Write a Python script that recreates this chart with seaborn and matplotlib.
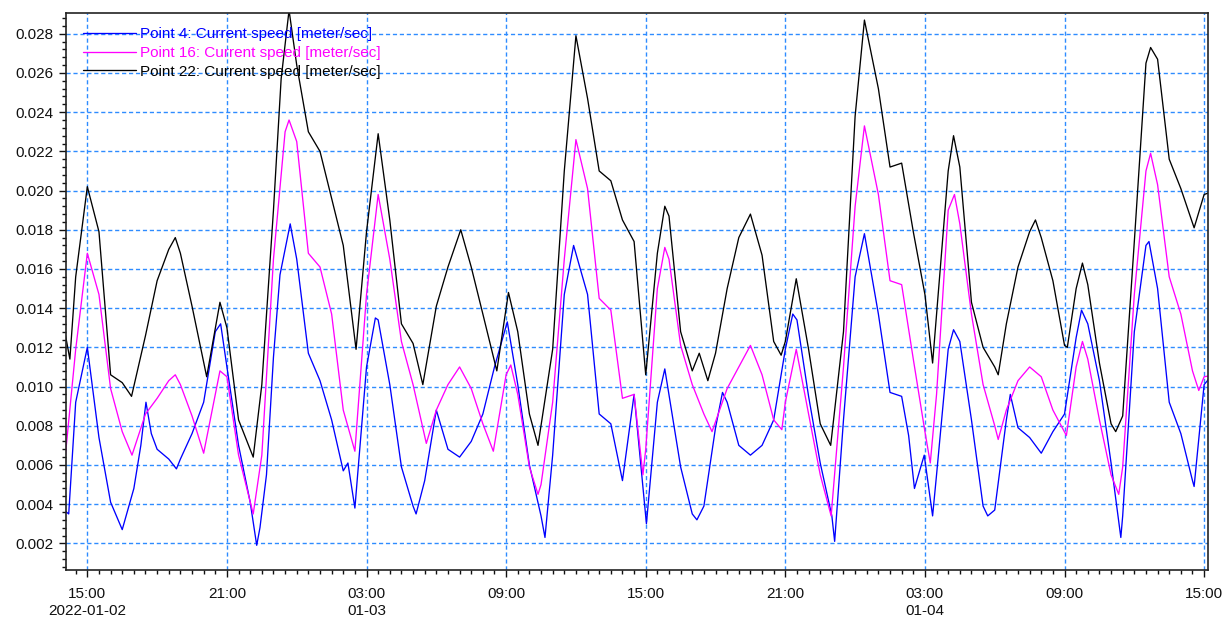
import pandas as pd
import matplotlib
matplotlib.use("Agg")
import matplotlib.pyplot as plt
import matplotlib.ticker as mticker
import seaborn as sns

# horas contadas a partir de 2022-01-02 00:00 (m/s)
p4_hours = [14.0, 14.2, 14.5, 14.75, 15.0, 15.5, 16.0, 16.5, 17.0, 17.3, 17.52, 17.75,
            18.0, 18.5, 18.83, 19.0, 19.5, 20.0, 20.5, 20.73, 21.0, 21.5, 22.0, 22.28,
            22.42, 22.7, 23.0, 23.28, 23.72, 24.0, 24.5, 25.0, 25.5, 26.0, 26.2, 26.5,
            27.0, 27.38, 27.5, 28.0, 28.5, 29.0, 29.13, 29.5, 30.0, 30.5, 31.0, 31.5,
            32.0, 32.5, 33.05, 33.5, 34.0, 34.5, 34.67, 35.0, 35.5, 35.9, 36.5, 37.0,
            37.5, 38.0, 38.5, 39.03, 39.5, 39.82, 40.5, 41.0, 41.2, 41.5, 42.0, 42.3,
            42.5, 43.0, 43.5, 44.0, 44.5, 45.0, 45.32, 45.5, 46.0, 46.5, 47.0, 47.12,
            47.5, 48.0, 48.4, 49.0, 49.5, 50.0, 50.3, 50.55, 50.97, 51.33, 51.5, 52.0,
            52.23, 52.5, 53.0, 53.5, 53.7, 54.0, 54.5, 54.67, 55.0, 55.5, 56.0, 56.5,
            57.0, 57.5, 57.73, 58.0, 58.5, 59.0, 59.42, 59.5, 60.0, 60.5, 60.63, 61.0,
            61.5, 62.0, 62.5, 62.57, 63.0, 63.5]
p4_speed = [0.0037, 0.0035, 0.0092, 0.0106, 0.0120, 0.0074, 0.0041, 0.0027, 0.0048, 0.0070, 0.0092, 0.0076,
            0.0068, 0.0063, 0.0058, 0.0063, 0.0076, 0.0092, 0.0128, 0.0132, 0.0110, 0.0070, 0.0041, 0.0019,
            0.0028, 0.0055, 0.0115, 0.0157, 0.0183, 0.0165, 0.0117, 0.0103, 0.0083, 0.0057, 0.0061, 0.0038,
            0.0110, 0.0135, 0.0134, 0.0101, 0.0059, 0.0039, 0.0035, 0.0052, 0.0088, 0.0068, 0.0064, 0.0072,
            0.0086, 0.0110, 0.0133, 0.0101, 0.0060, 0.0034, 0.0023, 0.0065, 0.0147, 0.0172, 0.0147, 0.0086,
            0.0081, 0.0052, 0.0096, 0.0030, 0.0092, 0.0109, 0.0059, 0.0035, 0.0032, 0.0039, 0.0079, 0.0097,
            0.0092, 0.0070, 0.0065, 0.0070, 0.0083, 0.0119, 0.0137, 0.0134, 0.0095, 0.0061, 0.0034, 0.0021,
            0.0083, 0.0156, 0.0178, 0.0137, 0.0097, 0.0095, 0.0075, 0.0048, 0.0065, 0.0034, 0.0055, 0.0119,
            0.0129, 0.0123, 0.0083, 0.0039, 0.0034, 0.0037, 0.0083, 0.0096, 0.0079, 0.0074, 0.0066, 0.0077,
            0.0086, 0.0125, 0.0139, 0.0132, 0.0103, 0.0061, 0.0023, 0.0034, 0.0128, 0.0172, 0.0174, 0.0150,
            0.0092, 0.0076, 0.0052, 0.0049, 0.0101, 0.0108]

p16_hours = [14.0, 14.5, 15.0, 15.5, 16.0, 16.5, 16.92, 17.5, 18.0, 18.5, 18.78, 19.0,
             19.5, 20.0, 20.5, 20.7, 21.0, 21.5, 22.13, 22.5, 23.0, 23.5, 23.67, 24.0,
             24.5, 25.0, 25.5, 26.0, 26.5, 27.0, 27.5, 28.0, 28.5, 29.0, 29.57, 30.0,
             30.5, 31.0, 31.5, 32.0, 32.45, 33.0, 33.2, 33.5, 34.0, 34.37, 34.5, 35.0,
             35.5, 36.0, 36.5, 37.0, 37.5, 38.0, 38.5, 38.88, 39.0, 39.5, 39.82, 40.0,
             40.5, 41.0, 41.5, 41.85, 42.5, 43.0, 43.5, 44.0, 44.5, 44.85, 45.0, 45.47,
             46.0, 46.5, 46.97, 47.5, 48.0, 48.4, 49.0, 49.5, 50.0, 50.5, 51.0, 51.23,
             51.5, 52.0, 52.27, 52.5, 53.0, 53.5, 54.0, 54.15, 54.5, 55.0, 55.5, 56.0,
             56.5, 57.08, 57.5, 57.77, 58.0, 58.5, 59.0, 59.33, 59.5, 60.0, 60.5, 60.7,
             61.0, 61.5, 62.0, 62.5, 62.77, 63.0, 63.5]
p16_speed = [0.0058, 0.0119, 0.0168, 0.0147, 0.0099, 0.0077, 0.0065, 0.0086, 0.0094, 0.0103, 0.0106, 0.0101,
             0.0085, 0.0066, 0.0096, 0.0108, 0.0105, 0.0065, 0.0035, 0.0065, 0.0165, 0.0230, 0.0236, 0.0225,
             0.0168, 0.0161, 0.0137, 0.0088, 0.0067, 0.0147, 0.0198, 0.0165, 0.0123, 0.0101, 0.0071, 0.0088,
             0.0101, 0.0110, 0.0099, 0.0081, 0.0067, 0.0106, 0.0111, 0.0096, 0.0059, 0.0045, 0.0050, 0.0092,
             0.0165, 0.0226, 0.0201, 0.0145, 0.0139, 0.0094, 0.0096, 0.0055, 0.0068, 0.0150, 0.0171, 0.0165,
             0.0121, 0.0101, 0.0086, 0.0077, 0.0099, 0.0110, 0.0121, 0.0106, 0.0083, 0.0078, 0.0092, 0.0119,
             0.0086, 0.0055, 0.0034, 0.0110, 0.0192, 0.0233, 0.0198, 0.0154, 0.0152, 0.0114, 0.0077, 0.0061,
             0.0096, 0.0190, 0.0198, 0.0183, 0.0137, 0.0101, 0.0080, 0.0073, 0.0088, 0.0103, 0.0110, 0.0105,
             0.0088, 0.0075, 0.0110, 0.0123, 0.0114, 0.0083, 0.0055, 0.0045, 0.0059, 0.0147, 0.0210, 0.0219,
             0.0203, 0.0156, 0.0137, 0.0108, 0.0098, 0.0105, 0.0106]

p22_hours = [14.0, 14.25, 14.5, 15.0, 15.5, 16.0, 16.5, 16.9, 17.5, 18.0, 18.5, 18.78,
             19.0, 19.5, 20.13, 20.7, 21.0, 21.5, 22.13, 22.5, 23.0, 23.33, 23.67, 24.0,
             24.5, 25.0, 25.5, 26.0, 26.55, 27.0, 27.5, 28.0, 28.5, 29.0, 29.42, 30.0,
             30.5, 31.05, 31.5, 32.0, 32.6, 33.1, 33.5, 34.0, 34.37, 35.0, 35.5, 36.0,
             36.5, 37.0, 37.5, 38.0, 38.5, 39.0, 39.5, 39.82, 40.0, 40.5, 41.0, 41.3,
             41.67, 42.0, 42.5, 43.0, 43.5, 44.0, 44.5, 44.82, 45.0, 45.47, 46.0, 46.5,
             46.95, 47.5, 48.0, 48.4, 49.0, 49.5, 50.0, 50.5, 51.0, 51.33, 52.0, 52.23,
             52.5, 53.0, 53.5, 54.0, 54.15, 54.5, 55.0, 55.5, 55.75, 56.0, 56.5, 57.0,
             57.12, 57.5, 57.77, 58.0, 58.5, 59.0, 59.2, 59.5, 60.0, 60.5, 60.7, 61.0,
             61.5, 62.0, 62.57, 63.0, 63.5]
p22_speed = [0.0130, 0.0114, 0.0156, 0.0202, 0.0179, 0.0106, 0.0102, 0.0095, 0.0126, 0.0154, 0.0170, 0.0176,
             0.0168, 0.0141, 0.0105, 0.0143, 0.0130, 0.0083, 0.0064, 0.0101, 0.0190, 0.0257, 0.0292, 0.0264,
             0.0230, 0.0220, 0.0196, 0.0172, 0.0119, 0.0179, 0.0229, 0.0185, 0.0132, 0.0122, 0.0101, 0.0141,
             0.0161, 0.0180, 0.0161, 0.0137, 0.0108, 0.0148, 0.0128, 0.0086, 0.0070, 0.0119, 0.0210, 0.0279,
             0.0247, 0.0210, 0.0205, 0.0185, 0.0174, 0.0106, 0.0168, 0.0192, 0.0187, 0.0128, 0.0108, 0.0117,
             0.0103, 0.0117, 0.0150, 0.0176, 0.0188, 0.0167, 0.0123, 0.0116, 0.0123, 0.0155, 0.0119, 0.0081,
             0.0070, 0.0128, 0.0238, 0.0287, 0.0252, 0.0212, 0.0214, 0.0179, 0.0147, 0.0112, 0.0210, 0.0228,
             0.0212, 0.0143, 0.0120, 0.0110, 0.0106, 0.0132, 0.0161, 0.0179, 0.0185, 0.0176, 0.0154, 0.0121,
             0.0120, 0.0150, 0.0163, 0.0152, 0.0112, 0.0081, 0.0077, 0.0085, 0.0174, 0.0265, 0.0273, 0.0267,
             0.0216, 0.0201, 0.0181, 0.0198, 0.0200]

series_names = ["Point 4: Current speed [meter/sec]",
                "Point 16: Current speed [meter/sec]",
                "Point 22: Current speed [meter/sec]"]
series_colors = ["#0000ff", "#ff00ff", "#000000"]

inicio = pd.Timestamp("2022-01-02 00:00")
frames = []
for name, hours, speed in zip(series_names, [p4_hours, p16_hours, p22_hours], [p4_speed, p16_speed, p22_speed]):
    assert len(hours) == len(speed), name
    frames.append(pd.DataFrame({
        "time": inicio + pd.to_timedelta(hours, unit="h"),
        "speed": speed,
        "serie": name,
    }))
df = pd.concat(frames, ignore_index=True)

sns.set_theme(style="white")
plt.rcParams["font.family"] = ["Liberation Sans", "DejaVu Sans"]

fig = plt.figure(figsize=(12.28, 6.21), dpi=100)
ax = fig.add_axes([66 / 1228, 1 - 570 / 621, (1208 - 66) / 1228, (570 - 13) / 621])

sns.lineplot(data=df, x="time", y="speed", hue="serie", hue_order=series_names,
             palette=series_colors, estimator=None, linewidth=0.95, ax=ax)

ax.set_xlim(pd.Timestamp("2022-01-02 14:05"), pd.Timestamp("2022-01-04 15:10"))
ax.set_ylim(0.00064, 0.02906)

# eixo x: marcas a cada 6 h, menores a cada 30 min
major = pd.date_range("2022-01-02 15:00", "2022-01-04 15:00", freq="6h")
labels = []
dia_anterior = None
for t in major:
    if dia_anterior is None:
        labels.append(t.strftime("%H:%M\n%Y-%m-%d"))
    elif t.date() != dia_anterior:
        labels.append(t.strftime("%H:%M\n%m-%d"))
    else:
        labels.append(t.strftime("%H:%M"))
    dia_anterior = t.date()
ax.set_xticks(major)
ax.set_xticklabels(labels, linespacing=1.3)
ax.set_xticks(pd.date_range("2022-01-02 14:30", "2022-01-04 15:00", freq="30min"), minor=True)

ax.yaxis.set_major_locator(mticker.MultipleLocator(0.002))
ax.yaxis.set_minor_locator(mticker.MultipleLocator(0.0004))
ax.yaxis.set_major_formatter(mticker.FormatStrFormatter("%.3f"))

ax.tick_params(axis="both", which="both", bottom=True, left=True, direction="out",
               color="#111111", width=1.0)
ax.tick_params(axis="both", which="major", length=5, labelsize=11, labelcolor="#111111", pad=4)
ax.tick_params(axis="x", which="major", pad=7)
ax.tick_params(axis="both", which="minor", length=3)

ax.grid(True, which="major", color="#2e8cff", linestyle=(0, (3, 2)), linewidth=1.0)
for s in ax.spines.values():
    s.set_color("#222222")
    s.set_linewidth(1.2)

ax.set_xlabel("")
ax.set_ylabel("")

ax.legend(loc="upper left", bbox_to_anchor=(17 / 1142, 1 - 14 / 557), frameon=False,
          labelcolor="linecolor", fontsize=11, handlelength=3.5, handletextpad=0.2,
          labelspacing=0.32, borderpad=0, borderaxespad=0)

fig.savefig("out.png", dpi=100)
